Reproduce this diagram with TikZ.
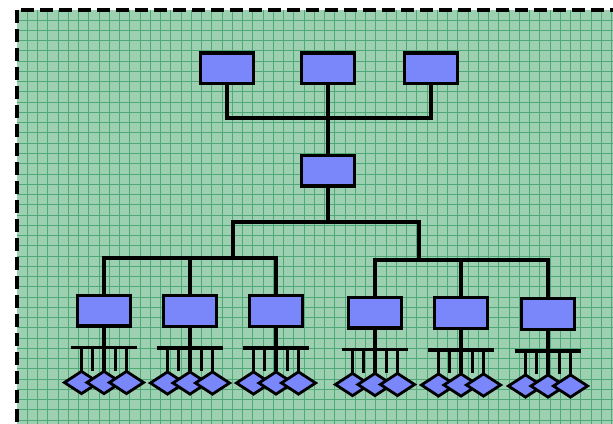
\documentclass[tikz,border=0pt]{standalone}
\usetikzlibrary{shapes.geometric}
\definecolor{bgc}{HTML}{9DCFB1}
\definecolor{gridc}{HTML}{4FA877}
\definecolor{boxc}{HTML}{7A87FA}
\begin{document}
\begin{tikzpicture}[x=0.75pt,y=-0.75pt,
  box/.style={draw=black,fill=boxc,line width=2.5pt,inner sep=0pt,minimum width=40pt,minimum height=23pt},
  leaf/.style={diamond,draw=black,fill=boxc,line width=2.1pt,inner sep=0pt,minimum width=26.5pt,minimum height=17.5pt},
  wire/.style={draw=black,line width=2.5pt},
  gline/.style={draw=gridc,line width=0.75pt}]
\useasboundingbox (0,0) rectangle (613,424);
\clip (0,0) rectangle (613,424);
% background
\fill[bgc] (17,10) rectangle (640,450);
\foreach \i in {1,...,60}{
  \draw[gline] ({17+10.25*\i},10) -- ({17+10.25*\i},450);
  \draw[gline] (17,{10+10.25*\i}) -- (640,{10+10.25*\i});
}
\draw[black,line width=2.4pt,dash pattern=on 9.75pt off 4.5pt] (17,10) rectangle (640,450);
% top level
\node[box] (t1) at (227,68.5) {};
\node[box] (t2) at (328,68.5) {};
\node[box] (t3) at (431,68.5) {};
\node[box] (m) at (328,170.5) {};
\coordinate (b1) at (328,118);
\draw[wire] (t1.south) |- (b1) -| (t3.south);
\draw[wire] (t2.south) -- (m.north);
% second level
\coordinate (b2) at (328,222);
\coordinate (la) at (233,258);
\coordinate (ra) at (419,260);
\draw[wire] (m.south) -- (b2);
\draw[wire] (la) |- (b2) -| (ra);
\node[box] (L1) at (104,310.5) {};
\node[box] (L2) at (190,311) {};
\node[box] (L3) at (276,311) {};
\node[box] (R1) at (375,312.5) {};
\node[box] (R2) at (461,313) {};
\node[box] (R3) at (548,314) {};
\draw[wire] (L1.north) |- (la) -| (L3.north);
\draw[wire] (L2.north) -- (L2.north |- la);
\draw[wire] (R1.north) |- (ra) -| (R3.north);
\draw[wire] (R2.north) -- (R2.north |- ra);
% leaves
\foreach \b in {L1,L2,L3,R1,R2,R3}{
  \path (\b.south) ++(0,20) coordinate (\b bus);
  \draw[wire] (\b.south) -- (\b bus);
  \draw[wire] ([xshift=-25pt]\b bus) -- ([xshift=25pt]\b bus);
  \foreach \k in {-2,-1,0,1,2}{
    \draw[wire] ([xshift=\k*8.4pt]\b bus) -- ++(0,23);
  }
  \path (\b bus) ++(-22.5,35) node[leaf] (\b d1) {};
  \path (\b bus) ++(0,35) node[leaf] (\b d2) {};
  \path (\b bus) ++(22.5,35) node[leaf] (\b d3) {};
}
\end{tikzpicture}
\end{document}
